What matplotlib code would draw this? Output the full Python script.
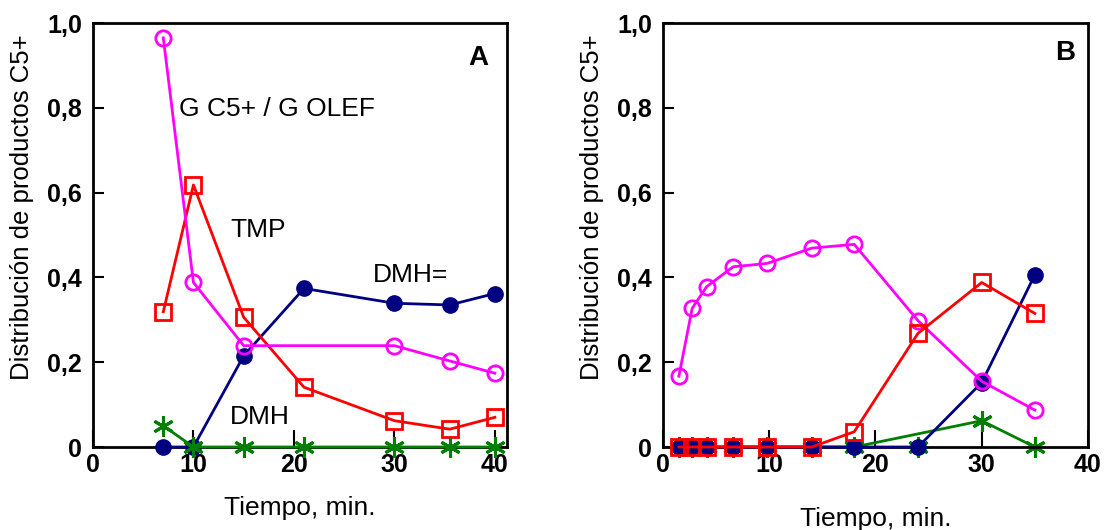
import numpy as np
import matplotlib
matplotlib.use("Agg")
import matplotlib.pyplot as plt

plt.rcParams['font.family'] = ['Liberation Sans', 'DejaVu Sans']

# Panel A data
a_t = [7, 10, 15, 21, 30, 35.5, 40]
a_t_olef = [7, 10, 15, 30, 35.5, 40]
a_olef = [0.965, 0.388, 0.239, 0.239, 0.203, 0.174]
a_t_tmp = [7, 10, 15, 21, 30, 35.5, 40]
a_tmp = [0.319, 0.618, 0.306, 0.141, 0.062, 0.042, 0.070]
a_dmh_eq = [0.0, 0.0, 0.215, 0.374, 0.339, 0.335, 0.362]
a_dmh = [0.05, 0.0, 0.0, 0.0, 0.0, 0.0, 0.0]

# Panel B data
b_t = [1.5, 2.75, 4.1, 6.6, 9.8, 14, 18, 24, 30, 35]
b_olef = [0.167, 0.327, 0.378, 0.425, 0.433, 0.469, 0.478, 0.298, 0.155, 0.087]
b_tmp = [0, 0, 0, 0, 0, 0, 0.036, 0.268, 0.388, 0.315]
b_dmh_eq = [0, 0, 0, 0, 0, 0, 0, 0, 0.152, 0.406]
b_dmh = [0, 0, 0, 0, 0, 0, 0, 0, 0.062, 0]

NAVY = '#000080'
RED = '#ff0000'
MAG = '#ff00ff'
GREEN = '#007f00'
STAR = (6, 2, 0)

dpi = 100
fig = plt.figure(figsize=(1104 / dpi, 530 / dpi), dpi=dpi)
axA = fig.add_axes([0.0842, 0.1566, 0.375, 0.80])
axB = fig.add_axes([0.6005, 0.1566, 0.385, 0.80])

yticks = [0, 0.2, 0.4, 0.6, 0.8, 1.0]
ylabels = ['0', '0,2', '0,4', '0,6', '0,8', '1,0']


def style(ax, xmax):
    ax.set_xlim(0, xmax)
    ax.set_ylim(0, 1.0)
    ax.set_xticks([0, 10, 20, 30, 40])
    ax.set_xticklabels(['0', '10', '20', '30', '40'])
    ax.set_yticks(yticks)
    ax.set_yticklabels(ylabels)
    ax.tick_params(direction='in', length=8, width=1.5, labelsize=18, pad=8)
    ax.tick_params(axis='x', length=12, pad=4)
    for lab in ax.get_xticklabels() + ax.get_yticklabels():
        lab.set_fontweight('bold')
    for sp in ax.spines.values():
        sp.set_linewidth(2)
    ax.set_ylabel('Distribución de productos C5+', fontsize=18.5, labelpad=9, y=0.565)


# Panel A
axA.plot(a_t, a_dmh_eq, color=NAVY, lw=2, marker='o', ms=11, clip_on=False, zorder=3)
axA.plot(a_t_tmp, a_tmp, color=RED, lw=2, marker='s', ms=12, mfc='none', mew=2, zorder=3)
axA.plot(a_t_olef, a_olef, color=MAG, lw=2, marker='o', ms=11, mfc='none', mew=2, zorder=3)
axA.plot(a_t, a_dmh, color=GREEN, lw=2, marker=STAR, ms=15, mew=2.2, clip_on=False, zorder=4)
style(axA, 41.2)
axA.set_xlabel('Tiempo, min.', fontsize=19, labelpad=14)
axA.text(8.6, 0.78, 'G C5+ / G OLEF', fontsize=19)
axA.text(13.7, 0.495, 'TMP', fontsize=19)
axA.text(27.9, 0.39, 'DMH=', fontsize=19)
axA.text(13.6, 0.055, 'DMH', fontsize=19)
axA.text(0.956, 0.948, 'A', transform=axA.transAxes, fontsize=20, fontweight='bold',
         ha='right', va='top')

# Panel B
skip = b_t.index(24)
axB.plot(b_t, b_dmh_eq, color=NAVY, lw=2, marker='o', ms=11, clip_on=False, zorder=3)
axB.plot(b_t, b_tmp, color=RED, lw=2, marker='s', ms=12, mfc='none', mew=2,
         clip_on=False, zorder=4)
axB.plot(b_t, b_olef, color=MAG, lw=2, marker='o', ms=11, mfc='none', mew=2, zorder=3)
axB.plot(np.delete(b_t, skip), np.delete(b_dmh, skip), color=GREEN, lw=2, zorder=2)
axB.plot(b_t, b_dmh, color=GREEN, lw=0, marker=STAR, ms=15, mew=2.2, clip_on=False, zorder=2)
style(axB, 40)
axB.set_xlabel('Tiempo, min.', fontsize=19, labelpad=22)
axB.text(0.97, 0.96, 'B', transform=axB.transAxes, fontsize=20, fontweight='bold',
         ha='right', va='top')

fig.savefig('out.png', dpi=dpi)
